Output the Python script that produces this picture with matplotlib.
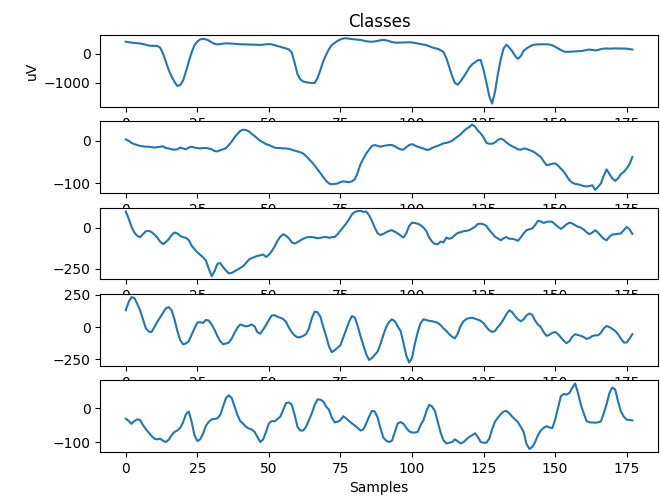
import matplotlib
matplotlib.use("Agg")
import matplotlib.pyplot as plt
import numpy as np

samples = np.arange(178)

class_1 = [400, 385, 370, 360, 350, 340, 320, 300, 270, 260, 262, 255, 200, 0, -280, -560, -780, -960, -1100, -1070,
           -920, -620, -280, 40, 280, 410, 480, 500, 480, 440, 380, 330, 310, 320, 335, 345, 340, 335, 330, 320,
           315, 310, 310, 305, 300, 300, 295, 290, 300, 315, 320, 310, 285, 255, 230, 200, 170, 140, 30, -320,
           -700, -880, -950, -975, -990, -1005, -1000, -830, -560, -260, -40, 150, 290, 360, 430, 480, 510, 520, 505, 490,
           480, 470, 460, 440, 415, 405, 400, 410, 430, 450, 460, 450, 420, 390, 370, 368, 372, 378, 380, 382,
           375, 360, 340, 320, 305, 285, 250, 210, 180, 160, 110, 50, -150, -450, -760, -1000, -1060, -940, -800, -650,
           -480, -370, -300, -230, -220, -560, -980, -1450, -1700, -1300, -700, -200, 170, 300, 200, 80, -80, -180, -90, 90,
           170, 230, 280, 305, 310, 312, 315, 312, 305, 280, 230, 175, 120, 70, 55, 60, 65, 70, 80, 80,
           100, 120, 135, 120, 105, 120, 150, 165, 172, 165, 168, 175, 170, 168, 170, 165, 150, 135]

class_2 = [3, 0, -5, -8, -10, -12, -13, -14, -14, -15, -16, -15, -14, -13, -17, -18, -20, -21, -20, -16,
           -18, -20, -16, -14, -16, -17, -18, -17, -17, -18, -20, -24, -25, -22, -20, -17, -10, -2, 8, 16,
           23, 26, 25, 22, 16, 11, 5, 0, -4, -8, -10, -13, -16, -17, -17, -18, -18, -19, -21, -23,
           -25, -27, -30, -36, -43, -50, -58, -67, -76, -85, -94, -100, -102, -101, -100, -97, -95, -96, -97, -95,
           -90, -75, -55, -42, -30, -21, -12, -10, -12, -14, -12, -11, -10, -10, -13, -17, -20, -21, -15, -10,
           -8, -11, -14, -16, -18, -21, -21, -17, -14, -12, -9, -6, -5, -3, 0, 5, 10, 15, 22, 28,
           32, 38, 33, 24, 17, 8, -5, -7, -7, -4, 2, 5, 2, -4, -9, -13, -16, -20, -21, -18,
           -19, -22, -24, -28, -33, -38, -48, -57, -56, -54, -53, -58, -65, -72, -82, -92, -98, -101, -102, -104,
           -106, -107, -106, -104, -115, -108, -100, -82, -67, -78, -88, -94, -88, -78, -73, -65, -55, -38]

class_3 = [98, 55, 5, -30, -50, -58, -40, -22, -20, -27, -42, -60, -85, -100, -88, -70, -45, -30, -35, -50,
           -58, -62, -75, -110, -130, -150, -165, -180, -200, -250, -295, -265, -220, -215, -240, -260, -278, -275, -265, -255,
           -245, -234, -215, -195, -185, -178, -172, -168, -163, -178, -165, -142, -115, -80, -55, -40, -50, -65, -90, -97,
           -88, -77, -68, -60, -58, -57, -60, -64, -62, -58, -57, -62, -58, -57, -40, -18, 5, 25, 50, 80,
           95, 100, 102, 95, 98, 75, 40, 0, -35, -45, -38, -28, -20, -16, -25, -35, -48, -60, -35, 10,
           30, 28, 24, 15, 0, -20, -60, -85, -100, -100, -85, -90, -60, -68, -62, -45, -32, -28, -22, -20,
           -15, -6, 5, 22, 24, 20, 10, -15, -35, -55, -65, -77, -65, -57, -68, -68, -72, -80, -60, -35,
           -16, -10, -5, 15, 41, 38, 28, 35, 37, 35, 20, 5, -8, 5, 20, 30, 25, 15, 5, 0,
           -12, -28, -40, -30, -16, -30, -50, -68, -77, -55, -42, -40, -38, -35, -15, 4, -10, -38]

class_4 = [130, 195, 232, 226, 180, 130, 60, -10, -35, -38, 0, 40, 75, 110, 145, 155, 130, 60, -30, -100,
           -133, -128, -110, -60, -10, 35, 38, 32, 55, 50, 20, -20, -70, -110, -133, -128, -120, -90, -45, -5,
           20, 12, 5, 10, 20, 5, -40, -52, -20, 15, 55, 90, 92, 80, 72, 62, 40, -5, -40, -65,
           -80, -78, -68, -55, -10, 70, 120, 115, 80, 0, -70, -150, -195, -180, -160, -140, -80, -20, 40, 85,
           75, 10, -70, -140, -210, -255, -240, -215, -190, -130, -60, 0, 40, 60, 45, 5, -30, -120, -220, -275,
           -240, -130, -40, 30, 60, 55, 48, 45, 40, 32, 15, -10, -30, -55, -75, -88, -50, 10, 45, 62,
           70, 72, 65, 58, 48, 30, 0, -25, -38, -30, 0, 25, 60, 100, 130, 115, 85, 60, 45, 60,
           90, 105, 95, 50, 20, 0, -40, -68, -60, -45, -38, -55, -80, -105, -125, -110, -75, -56, -62, -68,
           -78, -92, -85, -70, -64, -64, -45, -10, 8, 0, -15, -30, -56, -90, -120, -120, -90, -55]

class_5 = [-31, -38, -46, -38, -33, -35, -50, -62, -72, -82, -90, -92, -90, -96, -100, -93, -80, -70, -66, -58,
           -42, -18, -10, -40, -80, -97, -92, -75, -52, -40, -33, -32, -30, -20, 5, 30, 38, 30, 5, -20,
           -38, -46, -55, -60, -63, -70, -85, -100, -92, -70, -45, -38, -39, -32, -25, -5, 15, 17, 10, -20,
           -55, -66, -66, -55, -35, -15, 10, 26, 25, 20, 5, -5, -28, -42, -40, -35, -24, -30, -38, -45,
           -51, -58, -66, -63, -45, -25, -8, -10, -28, -60, -87, -96, -100, -96, -70, -45, -41, -46, -58, -68,
           -72, -72, -70, -50, -36, -10, 10, 5, -8, -40, -72, -95, -104, -102, -100, -92, -98, -104, -100, -92,
           -85, -80, -74, -85, -100, -102, -102, -90, -62, -40, -28, -18, -10, -8, -15, -25, -33, -41, -55, -70,
           -105, -120, -115, -100, -80, -66, -58, -53, -57, -59, -35, 0, 35, 42, 40, 45, 60, 73, 45, 10,
           -15, -38, -42, -42, -43, -42, -39, -15, 12, 45, 61, 55, 20, -10, -25, -34, -35, -36]

series = [class_1, class_2, class_3, class_4, class_5]

fig, axes = plt.subplots(5, 1, figsize=(6.61, 4.99), dpi=100)
fig.subplots_adjust(left=0.152, right=0.995, top=0.930, bottom=0.094, hspace=0.2)
for ax, vals in zip(axes, series):
    ax.plot(samples, vals, color="#1f77b4", linewidth=1.5)
axes[0].set_title("Classes")
axes[0].set_ylabel("uV")
axes[-1].set_xlabel("Samples")
fig.savefig("out.png", dpi=100)
